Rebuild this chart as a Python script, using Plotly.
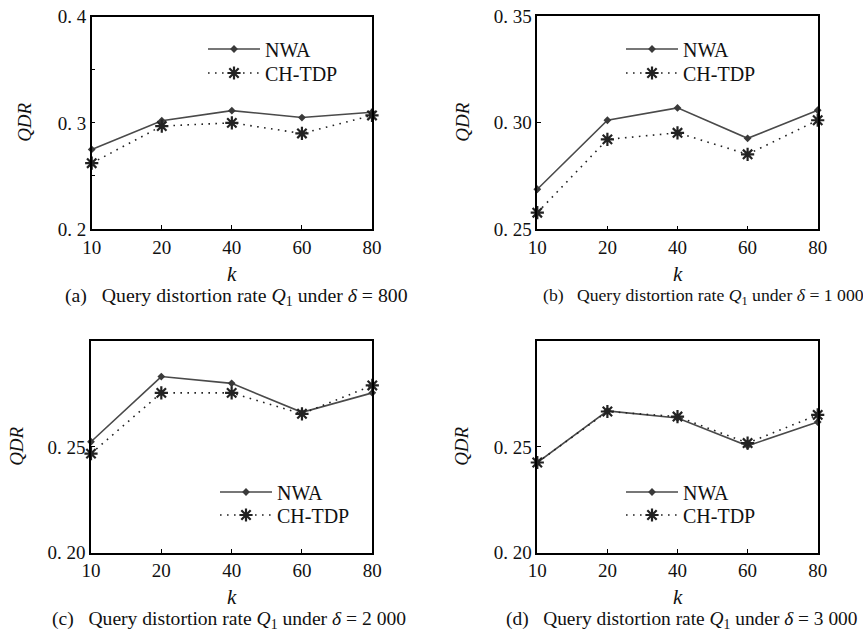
import plotly.graph_objects as go
from plotly.subplots import make_subplots

# k values (categorical x axis)
k_values = ["10", "20", "40", "60", "80"]

# QDR for NWA and CH-TDP under each delta
nwa_800 = [0.275, 0.302, 0.3115, 0.305, 0.310]
chtdp_800 = [0.262, 0.297, 0.300, 0.290, 0.307]

nwa_1000 = [0.2688, 0.3012, 0.3070, 0.2927, 0.3059]
chtdp_1000 = [0.2578, 0.2922, 0.2953, 0.2852, 0.3012]

nwa_2000 = [0.2524, 0.2832, 0.2800, 0.2663, 0.2755]
chtdp_2000 = [0.2468, 0.2755, 0.2755, 0.2656, 0.2790]

nwa_3000 = [0.2426, 0.2670, 0.2636, 0.2505, 0.2617]
chtdp_3000 = [0.2426, 0.2667, 0.2643, 0.2518, 0.2651]

captions = [
    "(a)   Query distortion rate <i>Q</i><sub>1</sub> under <i>δ</i> = 800",
    "(b)   Query distortion rate <i>Q</i><sub>1</sub> under <i>δ</i> = 1 000",
    "(c)   Query distortion rate <i>Q</i><sub>1</sub> under <i>δ</i> = 2 000",
    "(d)   Query distortion rate <i>Q</i><sub>1</sub> under <i>δ</i> = 3 000",
]

y_ranges = [[0.2, 0.4], [0.25, 0.35], [0.2, 0.3], [0.2, 0.3]]
y_tickvals = [[0.2, 0.3, 0.4], [0.25, 0.30, 0.35], [0.20, 0.25], [0.20, 0.25]]
y_ticktext = [["0. 2", "0. 3", "0. 4"], ["0. 25", "0. 30", "0. 35"],
              ["0. 20", "0. 25"], ["0. 20", "0. 25"]]

series = [(nwa_800, chtdp_800), (nwa_1000, chtdp_1000),
          (nwa_2000, chtdp_2000), (nwa_3000, chtdp_3000)]

W, H = 863, 635
FONT = "Liberation Serif"
INK = "#111111"

# panel boxes in pixels: (left, right, top, bottom)
boxes = [(91.7, 372.0, 16.7, 229.0), (537.3, 817.7, 16.3, 229.3),
         (91.0, 372.3, 341.0, 552.7), (537.3, 817.7, 341.0, 552.7)]
# legend row anchors (x of line start, y of row centre) in pixels
legend_rows = [((208, 49), (208, 73)), ((626, 49), (626, 73)),
               ((220, 492), (220, 515)), ((626, 492), (626, 515))]
ytitle_x = [25, 463, 17, 462]
# caption: left edge, vertical centre, font size
caption_pos = [(63, 297, 19.8), (541, 297, 17.7), (50, 620, 19.6), (504, 620, 19.4)]
ktitle_pos = [(232, 274), (678, 274), (232, 597), (678, 597)]

fig = make_subplots(rows=2, cols=2)

for i, (nwa, ch) in enumerate(series):
    row, col = i // 2 + 1, i % 2 + 1
    fig.add_trace(go.Scatter(
        x=k_values, y=nwa, name="NWA", mode="lines+markers",
        line=dict(color="#4a4a4a", width=1.6),
        marker=dict(symbol="diamond", size=6, color="#3a3a3a"),
        cliponaxis=False,
        legend="legend" if i == 0 else f"legend{2 * i + 1}"), row=row, col=col)
    fig.add_trace(go.Scatter(
        x=k_values, y=ch, name="CH-TDP", mode="lines+markers",
        line=dict(color="#222222", width=1.6, dash="1.6px,5.4px"),
        marker=dict(symbol="asterisk-open", size=11,
                    line=dict(color=INK, width=2.2)),
        cliponaxis=False, legend=f"legend{2 * i + 2}"), row=row, col=col)

layout_updates = {}
tick_font = dict(family=FONT, size=19, color=INK)
for i in range(4):
    l, r, t, b = boxes[i]
    ax = "" if i == 0 else str(i + 1)
    layout_updates[f"xaxis{ax}"] = dict(
        domain=[l / W, r / W], type="category", range=[0, 4],
        automargin=False, showline=True, linecolor="black", linewidth=1.5,
        mirror=True, ticks="inside", ticklen=4, tickcolor="black",
        showgrid=False, zeroline=False, tickfont=tick_font,
    )
    yaxis = dict(
        domain=[1 - b / H, 1 - t / H], range=y_ranges[i],
        tickvals=y_tickvals[i], ticktext=y_ticktext[i], automargin=False,
        showline=True, linecolor="black", linewidth=1.5, mirror=True,
        ticks="inside", ticklen=4, tickcolor="black", showgrid=False,
        zeroline=False, tickfont=tick_font,
    )
    if i == 0:
        yaxis["minor"] = dict(tickvals=[0.25, 0.35], ticks="inside",
                              ticklen=4, tickcolor="black")
    layout_updates[f"yaxis{ax}"] = yaxis
    for j, (lx, ly) in enumerate(legend_rows[i]):
        n = 2 * i + j + 1
        key = "legend" if n == 1 else f"legend{n}"
        layout_updates[key] = dict(
            x=(lx - 5) / W, y=1 - ly / H, xanchor="left", yanchor="middle",
            bgcolor="rgba(0,0,0,0)", borderwidth=0,
            font=dict(family=FONT, size=20, color=INK),
            itemwidth=52,
        )

annotations = []
for i in range(4):
    l, r, t, b = boxes[i]
    annotations.append(dict(
        text="<i>QDR</i>", x=ytitle_x[i] / W, y=1 - ((t + b) / 2) / H,
        xref="paper", yref="paper", xanchor="center", yanchor="middle",
        showarrow=False, textangle=-90,
        font=dict(family=FONT, size=19, color=INK)))
    cx, cy, cs = caption_pos[i]
    annotations.append(dict(
        text=captions[i], x=cx / W, y=1 - cy / H, xref="paper", yref="paper",
        xanchor="left", yanchor="middle", showarrow=False,
        font=dict(family=FONT, size=cs, color=INK)))
    kx, ky = ktitle_pos[i]
    annotations.append(dict(
        text="<i>k</i>", x=kx / W, y=1 - ky / H, xref="paper", yref="paper",
        xanchor="center", yanchor="middle", showarrow=False,
        font=dict(family=FONT, size=21, color=INK)))

fig.update_layout(
    template="none", showlegend=True,
    width=W, height=H, margin=dict(l=0, r=0, t=0, b=0, autoexpand=False),
    paper_bgcolor="white", plot_bgcolor="white",
    annotations=annotations, **layout_updates,
)

fig.write_html("out.html")
